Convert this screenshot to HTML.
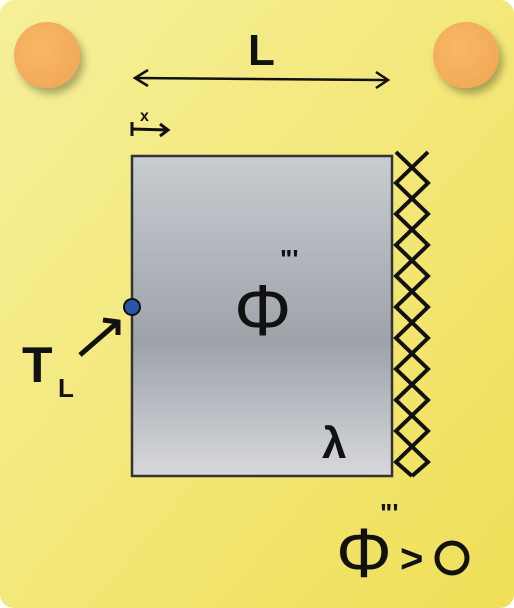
<!DOCTYPE html>
<html><head><meta charset="utf-8"><style>
html,body{margin:0;padding:0;background:#fff;}
svg{display:block;}
text{font-family:"Liberation Sans",sans-serif;font-weight:bold;fill:#111;}
</style></head><body>
<svg width="514" height="608" viewBox="0 0 514 608">
<defs>
<linearGradient id="card" x1="0" y1="0" x2="1" y2="1">
<stop offset="0" stop-color="#f6f09a"/><stop offset="1" stop-color="#f0df58"/></linearGradient>
<linearGradient id="slab" x1="0" y1="0" x2="0" y2="1">
<stop offset="0" stop-color="#c9ccd1"/><stop offset="0.58" stop-color="#9ea3aa"/><stop offset="1" stop-color="#d6d8dc"/></linearGradient>
<radialGradient id="pin" cx="0.4" cy="0.4" r="0.6"><stop offset="0" stop-color="#f7b866"/><stop offset="1" stop-color="#f2aa58"/></radialGradient>
<filter id="sh" x="-50%" y="-50%" width="200%" height="200%"><feDropShadow dx="4" dy="6" stdDeviation="4" flood-opacity="0.3"/></filter>
</defs>
<rect x="0" y="0" width="514" height="608" rx="14" fill="url(#card)"/>
<circle cx="47" cy="55" r="33" fill="url(#pin)" filter="url(#sh)"/>
<circle cx="466" cy="55" r="33" fill="url(#pin)" filter="url(#sh)"/>
<g stroke="#111" stroke-width="2.5" fill="none">
<line x1="135" y1="78" x2="388" y2="80"/>
<polyline points="148,70 135,78 148,86"/><polyline points="376,72 388,80 376,88"/>
</g>
<text x="248" y="65" font-size="44">L</text>
<g stroke="#111" stroke-width="3" fill="none">
<line x1="132" y1="122" x2="132" y2="136"/><line x1="132" y1="129" x2="168" y2="130"/>
<polyline points="160,124 168,130 160,136"/>
</g>
<text x="140" y="121" font-size="16">x</text>
<rect x="132" y="156" width="260" height="320" fill="url(#slab)" stroke="#333" stroke-width="2.5"/>
<g stroke="#111" stroke-width="4" fill="none">
<polyline points="396,152 428,183 396,214 428,245 396,276 428,307 396,338 428,369 396,400 428,431 396,462 412,476"/>
<polyline points="428,152 396,183 428,214 396,245 428,276 396,307 428,338 396,369 428,400 396,431 428,462 412,476"/>
</g>
<circle cx="132" cy="307" r="8" fill="#2a55a8" stroke="#111" stroke-width="2"/>
<g stroke="#111" stroke-width="5" fill="none">
<line x1="80" y1="355" x2="118" y2="322"/><polyline points="103,320 118,322 118,335"/>
</g>
<text x="22" y="382" font-size="50">T</text>
<text x="58" y="397" font-size="26">L</text>
<text x="234" y="335" font-size="72" style="font-weight:normal">Φ</text>
<text x="280" y="268" font-size="26">"'</text>
<text x="322" y="458" font-size="44">λ</text>
<text x="336" y="577" font-size="70" style="font-weight:normal">Φ</text>
<text x="380" y="522" font-size="26">"'</text>
<text x="400" y="572" font-size="40">&gt;</text>
<circle cx="452" cy="558" r="15" fill="none" stroke="#111" stroke-width="5"/>
</svg>
</body></html>
